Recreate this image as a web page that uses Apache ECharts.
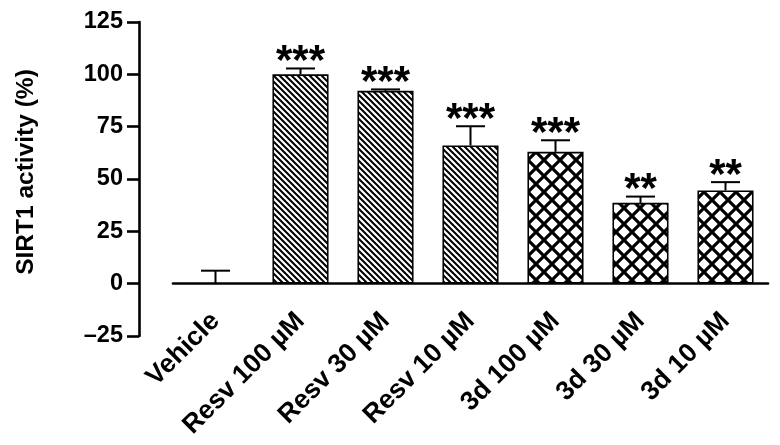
<!DOCTYPE html>
<html>
<head>
<meta charset="utf-8">
<script src="https://cdn.jsdelivr.net/npm/echarts@6/dist/echarts.min.js"></script>
<style>html,body{margin:0;padding:0;background:#fff}#c{width:780px;height:445px}</style>
</head>
<body>
<div id="c"></div>
<script>
const categories = ['Vehicle', 'Resv 100 \u00b5M', 'Resv 30 \u00b5M', 'Resv 10 \u00b5M', '3d 100 \u00b5M', '3d 30 \u00b5M', '3d 10 \u00b5M'];
const values = [0, 100, 92.1, 66, 63, 38.6, 44.5];
const errors = [6.2, 2.8, 0.7, 9.2, 5.5, 3, 4];
const stars = ['', '***', '***', '***', '***', '**', '**'];
const yTicks = [-25, 0, 25, 50, 75, 100, 125];

const FONT = '"Liberation Sans", Arial, sans-serif';

function makePattern(kind) {
  const c = document.createElement('canvas');
  const s = kind === 'cross' ? 16 : 6;
  c.width = s; c.height = s;
  const g = c.getContext('2d');
  g.fillStyle = '#fff';
  g.fillRect(0, 0, s, s);
  g.strokeStyle = '#000';
  g.lineWidth = kind === 'cross' ? 3.2 : 2;
  g.beginPath();
  g.moveTo(-2, -2); g.lineTo(s + 2, s + 2);
  g.moveTo(s - 2, -2); g.lineTo(s + 2, 2);
  g.moveTo(-2, s - 2); g.lineTo(2, s + 2);
  if (kind === 'cross') {
    g.moveTo(-2, s + 2); g.lineTo(s + 2, -2);
    g.moveTo(-2, 2); g.lineTo(2, -2);
    g.moveTo(s - 2, s + 2); g.lineTo(s + 2, s - 2);
  }
  g.stroke();
  return { image: c, repeat: 'repeat' };
}

const diagPattern = makePattern('diag');
const crossPattern = makePattern('cross');

const barData = values.map((v, i) => {
  const name = categories[i];
  let style;
  if (name.indexOf('Resv') === 0) style = { color: diagPattern, borderColor: '#000', borderWidth: 1.6 };
  else if (name.indexOf('3d') === 0) style = { color: crossPattern, borderColor: '#000', borderWidth: 1.6 };
  else style = { color: 'rgba(0,0,0,0)', borderWidth: 0 };
  return { value: v, itemStyle: style };
});

const errData = values.map((v, i) => [i, v, errors[i]]);

const chart = echarts.init(document.getElementById('c'), null, { renderer: 'canvas' });
chart.setOption({
  animation: false,
  backgroundColor: '#fff',
  grid: { left: 173, right: 12, top: 22, bottom: 109, containLabel: false, outerBoundsMode: 'none' },
  xAxis: {
    type: 'category',
    data: categories,
    axisLine: { onZero: true, lineStyle: { color: '#000', width: 2.6 } },
    axisTick: { alignWithLabel: true, length: 11, lineStyle: { color: '#000', width: 2.6 } },
    axisLabel: {
      interval: 0, rotate: 45, margin: -19,
      color: '#000', fontFamily: FONT, fontWeight: 'bold', fontSize: 26.5
    },
    splitLine: { show: false }
  },
  yAxis: {
    type: 'value',
    min: yTicks[0], max: yTicks[yTicks.length - 1], interval: 25,
    offset: 34,
    name: 'SIRT1 activity (%)',
    nameLocation: 'middle',
    nameGap: 100,
    nameTextStyle: { color: '#000', fontFamily: FONT, fontWeight: 'bold', fontSize: 24.5, padding: [0, 0, 0, 14] },
    axisLine: { show: true, onZero: false, lineStyle: { color: '#000', width: 2.6 } },
    axisTick: { show: true, length: 12, lineStyle: { color: '#000', width: 2.6 } },
    axisLabel: {
      margin: 16, color: '#000', fontFamily: FONT, fontWeight: 'bold', fontSize: 23.5,
      formatter: v => (v < 0 ? '\u2013' + Math.abs(v) : String(v))
    },
    splitLine: { show: false }
  },
  series: [
    {
      type: 'bar',
      data: barData,
      barWidth: '66%',
      z: 2
    },
    {
      type: 'custom',
      data: errData,
      z: 3,
      renderItem: function (params, api) {
        const i = api.value(0);
        const v = api.value(1);
        const e = api.value(2);
        const star = stars[i];
        const p0 = api.coord([i, v]);
        const p1 = api.coord([i, v + e]);
        const hw = 14.5;
        const children = [
          { type: 'line', shape: { x1: p0[0], y1: p0[1], x2: p1[0], y2: p1[1] }, style: { stroke: '#000', lineWidth: 2 } },
          { type: 'line', shape: { x1: p1[0] - hw, y1: p1[1], x2: p1[0] + hw, y2: p1[1] }, style: { stroke: '#000', lineWidth: 2 } }
        ];
        if (star) {
          children.push({
            type: 'text',
            style: {
              x: p1[0], y: p1[1] + 15,
              text: star,
              fill: '#000',
              font: 'bold 42px ' + FONT,
              textAlign: 'center',
              textVerticalAlign: 'bottom'
            }
          });
        }
        return { type: 'group', children: children };
      }
    }
  ]
});
</script>
</body>
</html>
